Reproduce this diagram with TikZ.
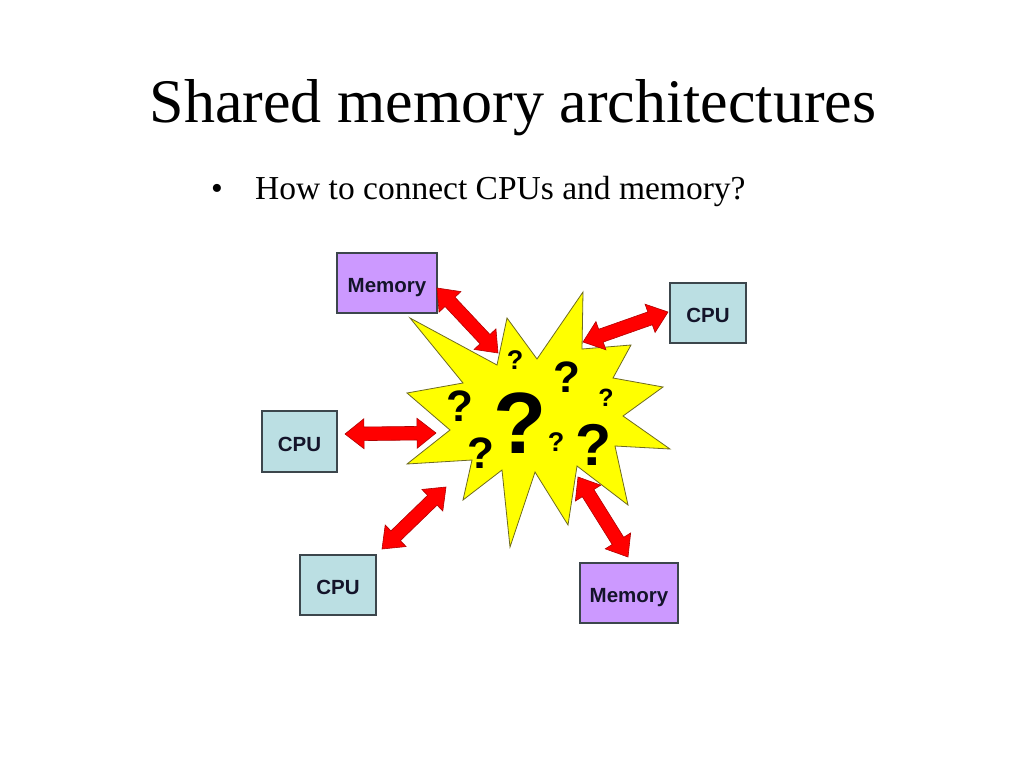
\documentclass[tikz,border=0pt]{standalone}
\usepackage{fontspec}
\setmainfont{Liberation Serif}
\newfontfamily\arialfont{Liberation Sans}
\usetikzlibrary{calc}
\definecolor{memfill}{HTML}{CC99FF}
\definecolor{cpufill}{HTML}{BBDFE3}
\definecolor{boxline}{HTML}{3C464C}
\definecolor{boxtext}{HTML}{14142A}
\definecolor{starfill}{HTML}{FFFF00}
\definecolor{starline}{HTML}{6E6A20}
\definecolor{arrfill}{HTML}{FF0000}
\definecolor{arrline}{HTML}{B00000}
\newcommand\ahl{19pt}
\newcommand\ahw{15pt}
\newcommand\asw{6.8pt}
\newcommand\dblarrow[2]{%
 \draw[bigarrow] (#1)
  -- ($($(#1)!\ahl!(#2)$)!\ahw!90:(#2)$)
  -- ($($(#1)!\ahl!(#2)$)!\asw!90:(#2)$)
  -- ($($(#2)!\ahl!(#1)$)!\asw!-90:(#1)$)
  -- ($($(#2)!\ahl!(#1)$)!\ahw!-90:(#1)$)
  -- (#2)
  -- ($($(#2)!\ahl!(#1)$)!\ahw!90:(#1)$)
  -- ($($(#2)!\ahl!(#1)$)!\asw!90:(#1)$)
  -- ($($(#1)!\ahl!(#2)$)!\asw!-90:(#2)$)
  -- ($($(#1)!\ahl!(#2)$)!\ahw!-90:(#2)$)
  -- cycle;}
\tikzset{
  unitbox/.style={draw=boxline, line width=1.1pt, inner sep=0pt,
    text height=19pt, text depth=0pt,
    font=\arialfont\bfseries\fontsize{20.5}{21}\selectfont, text=boxtext},
  membox/.style={unitbox, fill=memfill, minimum height=60pt},
  cpubox/.style={unitbox, fill=cpufill, minimum height=60pt, minimum width=76pt},
  bigarrow/.style={fill=arrfill, draw=arrline, line width=0.6pt, line join=miter},
  qmark/.style={inner sep=0pt, font=\arialfont\bfseries\fontsize{#1}{#1}\selectfont},
  startext/.style={fill=starfill, draw=starline, line width=0.8pt, line join=miter}
}
\begin{document}
\begin{tikzpicture}[x=1pt,y=-1pt]
\useasboundingbox (0,0) rectangle (1024,768);
\fill[white] (0,0) rectangle (1024,768);
% title
\node[anchor=base, inner sep=0pt, font=\fontsize{62}{62}\selectfont] (title) at (513,122) {Shared memory architectures};
\node[anchor=base, inner sep=0pt, font=\fontsize{33.5}{34}\selectfont] (bul) at (217,199) {\textbullet};
\node[anchor=base west, inner sep=0pt, font=\fontsize{33.5}{34}\selectfont] (sub) at (255,199) {How to connect CPUs and memory?};
% star
\draw[startext] (583,292) -- (582,349) -- (631,345) -- (613,378) -- (663,387)
  -- (623,416) -- (670,449) -- (615,446) -- (628,505) -- (577,466)
  -- (568,525) -- (535,472) -- (510,547) -- (502,470) -- (463,500)
  -- (472,460) -- (407,464) -- (450,430) -- (407,393) -- (463,383)
  -- (410,318) -- (497,365) -- (507,318) -- (537,359) -- cycle;
\node[qmark=87] (q0) at (520,423) {?};
\node[qmark=27] (q1) at (515,360) {?};
\node[qmark=44] (q2) at (567,377) {?};
\node[qmark=25] (q3) at (606,398) {?};
\node[qmark=44] (q4) at (460,406) {?};
\node[qmark=44] (q5) at (481,453) {?};
\node[qmark=27] (q6) at (556,442) {?};
\node[qmark=59] (q7) at (594,445) {?};
% boxes
\node[membox, minimum width=100pt] (mem1) at (387,283) {Memory};
\node[cpubox] (cpu1) at (708,313) {CPU};
\node[cpubox, minimum width=75pt, minimum height=61pt] (cpu2) at (299.5,441.5) {CPU};
\node[cpubox] (cpu3) at (338,585) {CPU};
\node[membox, minimum width=98pt] (mem2) at (629,593) {Memory};
% arrow ends
\coordinate (a1s) at (437,288); \coordinate (a1e) at (498,353);
\coordinate (a2s) at (668,312); \coordinate (a2e) at (583,342);
\coordinate (a3s) at (345,434); \coordinate (a3e) at (436,433);
\coordinate (a4s) at (382,549); \coordinate (a4e) at (446,487);
\coordinate (a5s) at (578,477); \coordinate (a5e) at (628,557);
\dblarrow{a1s}{a1e}
\dblarrow{a2s}{a2e}
\dblarrow{a3s}{a3e}
\dblarrow{a4s}{a4e}
\dblarrow{a5s}{a5e}
\end{tikzpicture}
\end{document}
